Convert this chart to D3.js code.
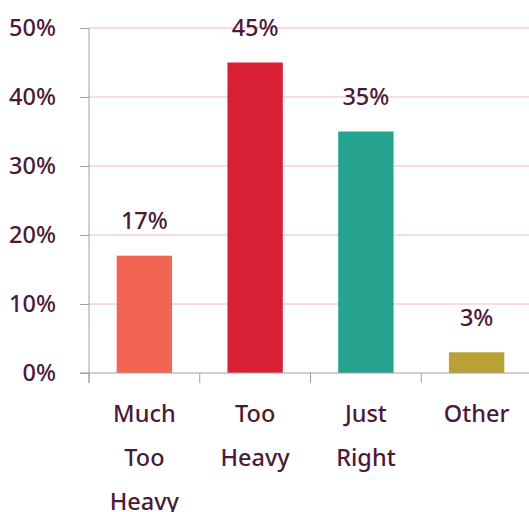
<!DOCTYPE html>
<meta charset='utf-8'>
<head>
<script src='https://d3js.org/d3.v7.min.js'></script>
<style>
  body{ margin: 0; background: #fff; }
  svg text{ font-family: 'Noto Sans', sans-serif; font-weight: 500; fill: #4b1a36; }
  .axis path, .axis line{ stroke: #a59ea1; }
</style>
</head>
<body>
<svg id="chart"></svg>
<script>

  var categories = ['Much Too Heavy', 'Too Heavy', 'Just Right', 'Other'];
  var values = [17, 45, 35, 3];
  var barColors = ['#f26552', '#d92035', '#26a48f', '#b8a235'];
  var yTicks = [0, 10, 20, 30, 40, 50];

  var width = 529, height = 512;
  var margin = {top: 28, left: 89, bottom: 139};
  var fontSize = '23.5px';

  var svg = d3.select('#chart')
      .attr('width', width)
      .attr('height', height);

  var x = d3.scaleBand()
      .domain(categories)
      .range([margin.left, 532])
      .paddingInner(0.5)
      .paddingOuter(0.25);

  var y = d3.scaleLinear()
      .domain([0, 50])
      .range([height - margin.bottom, margin.top]);

  // pink gridlines
  svg.append('g')
    .selectAll('line')
    .data(yTicks.slice(1))
    .enter().append('line')
      .attr('x1', margin.left)
      .attr('x2', width)
      .attr('y1', function(d) { return y(d); })
      .attr('y2', function(d) { return y(d); })
      .attr('stroke', '#f7d0d6')
      .attr('stroke-width', 1.5);

  // bars
  svg.append('g')
    .selectAll('rect')
    .data(values)
    .enter().append('rect')
      .attr('x', function(d, i) { return x(categories[i]); })
      .attr('width', x.bandwidth())
      .attr('y', function(d) { return y(d); })
      .attr('height', function(d) { return y(0) - y(d); })
      .attr('fill', function(d, i) { return barColors[i]; });

  // value labels
  svg.append('g')
    .selectAll('text')
    .data(values)
    .enter().append('text')
      .attr('x', function(d, i) { return x(categories[i]) + x.bandwidth() / 2; })
      .attr('y', function(d) { return y(d) - 35; })
      .attr('dy', '0.35em')
      .attr('text-anchor', 'middle')
      .style('font-size', fontSize)
      .text(function(d) { return d + '%'; });

  // y axis
  var yAxis = svg.append('g')
      .attr('class', 'axis')
      .attr('transform', 'translate(' + margin.left + ',0)')
      .call(d3.axisLeft(y).tickValues(yTicks).tickSize(9).tickPadding(24)
        .tickFormat(function(d) { return d + '%'; }));
  yAxis.select('.domain').attr('d', 'M0,' + y(50) + 'V' + (y(0) + 10));
  yAxis.selectAll('text').style('font-size', fontSize).attr('fill', null).attr('dy', '0.3em');

  // x axis
  var xAxis = svg.append('g')
      .attr('class', 'axis')
      .attr('transform', 'translate(0,' + y(0) + ')');
  xAxis.append('line')
      .attr('x1', margin.left - 9).attr('x2', width);
  xAxis.selectAll('.tick')
    .data(d3.range(categories.length))
    .enter().append('line')
      .attr('class', 'tick')
      .attr('x1', function(i) { return x.step() * i + margin.left; })
      .attr('x2', function(i) { return x.step() * i + margin.left; })
      .attr('y1', 0).attr('y2', 10);

  // category labels, one word per line
  var catLabels = svg.append('g')
    .selectAll('text')
    .data(categories)
    .enter().append('text')
      .attr('text-anchor', 'middle')
      .style('font-size', fontSize)
      .attr('transform', function(d) { return 'translate(' + (x(d) + x.bandwidth() / 2) + ',' + (y(0) + 41) + ')'; });

  catLabels.selectAll('tspan')
    .data(function(d) { return d.split(' '); })
    .enter().append('tspan')
      .attr('x', 0)
      .attr('y', function(d, i) { return i * 44; })
      .attr('dy', '0.35em')
      .text(function(d) { return d; });

</script>
</body>
</html>
